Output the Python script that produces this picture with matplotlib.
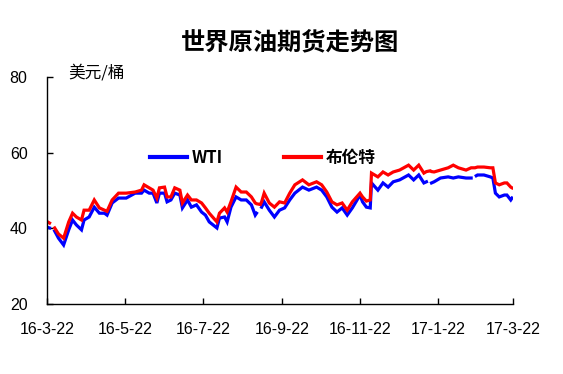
import matplotlib
matplotlib.use("Agg")
import matplotlib.pyplot as plt
import matplotlib.dates as mdates
import numpy as np
import pandas as pd
from matplotlib.ticker import FuncFormatter

plt.rcParams['font.family'] = ['Liberation Sans', 'Noto Sans CJK SC', 'DejaVu Sans']

nan = np.nan
dates = ["2016-03-22", "2016-03-24", "2016-03-25", "2016-03-28", "2016-03-31", "2016-04-04",
         "2016-04-08", "2016-04-11", "2016-04-14", "2016-04-18", "2016-04-20", "2016-04-24",
         "2016-04-28", "2016-05-02", "2016-05-06", "2016-05-08", "2016-05-12", "2016-05-17",
         "2016-05-23", "2016-05-30", "2016-06-04", "2016-06-06", "2016-06-10", "2016-06-13",
         "2016-06-16", "2016-06-18", "2016-06-22", "2016-06-24", "2016-06-27", "2016-06-30",
         "2016-07-04", "2016-07-06", "2016-07-10", "2016-07-13", "2016-07-17", "2016-07-21",
         "2016-07-24", "2016-07-27", "2016-08-02", "2016-08-04", "2016-08-08", "2016-08-10",
         "2016-08-13", "2016-08-17", "2016-08-21", "2016-08-25", "2016-08-29", "2016-09-01",
         "2016-09-02", "2016-09-05", "2016-09-06", "2016-09-08", "2016-09-12", "2016-09-16",
         "2016-09-20", "2016-09-24", "2016-09-28", "2016-10-02", "2016-10-08", "2016-10-13",
         "2016-10-19", "2016-10-23", "2016-10-27", "2016-10-31", "2016-11-04", "2016-11-08",
         "2016-11-12", "2016-11-16", "2016-11-22", "2016-11-24", "2016-11-27", "2016-11-30",
         "2016-12-01", "2016-12-06", "2016-12-10", "2016-12-14", "2016-12-18", "2016-12-23",
         "2016-12-30", "2017-01-03", "2017-01-07", "2017-01-11", "2017-01-13", "2017-01-16",
         "2017-01-17", "2017-01-19", "2017-01-24", "2017-01-30", "2017-02-03", "2017-02-07",
         "2017-02-13", "2017-02-17", "2017-02-20", "2017-02-21", "2017-02-22", "2017-02-27",
         "2017-03-04", "2017-03-06", "2017-03-08", "2017-03-11", "2017-03-15", "2017-03-17",
         "2017-03-20", "2017-03-21"]

wti = [40.3, 40.1, nan, 39.3, 37.4, 35.6,
       39.6, 42.2, 40.9, 39.6, 42.2, 43.0,
       45.6, 44.0, 44.0, 43.5, 46.7, 48.0,
       48.0, 49.3, 49.3, 50.1, 49.3, 49.3,
       46.7, 49.3, 49.3, 47.0, 47.5, 49.3,
       48.8, 45.4, 47.5, 45.6, 46.2, 44.3,
       43.5, 41.7, 40.1, 42.7, 43.0, 41.7,
       45.6, 48.3, 47.5, 47.5, 46.2, 43.5,
       44.0, nan, 45.6, 47.0, 44.8, 43.0,
       44.8, 45.4, 47.5, 49.3, 50.9, 50.1,
       50.9, 50.1, 48.3, 45.6, 44.3, 45.4,
       43.5, 45.4, 48.8, 47.0, 45.6, 45.4,
       52.0, 50.1, 52.0, 50.9, 52.3, 52.8,
       54.1, 52.8, 54.1, 52.0, 52.3, nan,
       52.0, 52.3, 53.3, 53.6, 53.3, 53.6,
       53.3, 53.3, nan, 53.9, 54.1, 54.1,
       53.6, 53.3, 49.3, 48.3, 48.8, 48.8,
       47.5, 48.0]

brent = [41.8, 41.4, nan, 40.1, 38.5, 37.4,
         41.7, 44.0, 43.0, 42.2, 44.8, 44.8,
         47.5, 45.4, 44.8, 44.5, 47.5, 49.3,
         49.3, 49.6, 50.1, 51.5, 50.7, 50.1,
         48.0, 50.7, 50.9, 48.3, 48.3, 50.7,
         50.1, 46.7, 48.8, 47.5, 47.5, 46.7,
         45.4, 44.0, 41.7, 44.0, 45.4, 44.3,
         47.0, 50.9, 49.6, 49.6, 48.3, 46.7,
         46.5, 46.3, 47.0, 49.3, 46.7, 45.6,
         47.0, 46.7, 49.3, 51.5, 52.8, 51.5,
         52.3, 51.5, 49.6, 47.0, 46.2, 46.7,
         44.8, 47.0, 49.3, 48.3, 47.2, 47.5,
         54.6, 53.6, 54.9, 54.1, 54.9, 55.4,
         56.7, 55.4, 56.7, 54.6, 55.0, 55.2,
         55.0, 54.9, 55.4, 56.0, 56.7, 56.0,
         55.4, 56.0, 56.0, 56.1, 56.2, 56.2,
         56.0, 56.0, 52.0, 51.5, 52.0, 52.0,
         50.9, 50.7]

tick_dates = ["2016-03-22", "2016-05-22", "2016-07-22", "2016-09-22",
              "2016-11-22", "2017-01-22", "2017-03-22"]
yticks = [20, 40, 60, 80]

title = "世界原油期货走势图"
unit = "美元/桶"
names = ["WTI", "布伦特"]

x = pd.to_datetime(dates)
fig = plt.figure(figsize=(5.63, 3.74), dpi=100)
ax = fig.add_axes([47/563, 1-304/374, (513.3-47)/563, (304-77)/374])

l1, = ax.plot(x, wti, color='#0000FF', lw=2.3, solid_joinstyle='miter')
l2, = ax.plot(x, brent, color='#FF0000', lw=2.3, solid_joinstyle='miter')

ax.set_xlim(pd.Timestamp("2016-03-22"), pd.Timestamp("2017-03-22"))
ax.set_ylim(20, 80)
ax.set_xticks(pd.to_datetime(tick_dates))
ax.xaxis.set_major_formatter(FuncFormatter(
    lambda v, p: (lambda d: f"{d.year % 100}-{d.month}-{d.day}")(mdates.num2date(v))))
ax.set_yticks(yticks)

for s in ['top', 'right']:
    ax.spines[s].set_visible(False)
for s in ['left', 'bottom']:
    ax.spines[s].set_linewidth(1.0)
ax.tick_params(axis='both', direction='in', length=4, width=1, labelsize=11.5)
ax.tick_params(axis='x', pad=13)
ax.tick_params(axis='y', pad=14)

fig.text(290/563, 1-42/374, title, ha='center', va='center', fontsize=17.5,
         fontweight='bold', family=['Noto Sans CJK SC'])
fig.text(68/563, 1-73/374, unit, ha='left', va='center', fontsize=12,
         family=['Noto Sans CJK SC', 'DejaVu Sans'])

leg = fig.legend([l1, l2], names, loc='center left',
                 bbox_to_anchor=(150/563, 1-158/374), ncol=2, frameon=False,
                 borderpad=0, borderaxespad=0, handlelength=2.2, handletextpad=0.3,
                 columnspacing=3.7,
                 prop={'family': ['Noto Sans CJK SC'], 'weight': 'bold', 'size': 12})
for h in leg.legend_handles:
    h.set_linewidth(3)

fig.savefig("out.png", dpi=100)
